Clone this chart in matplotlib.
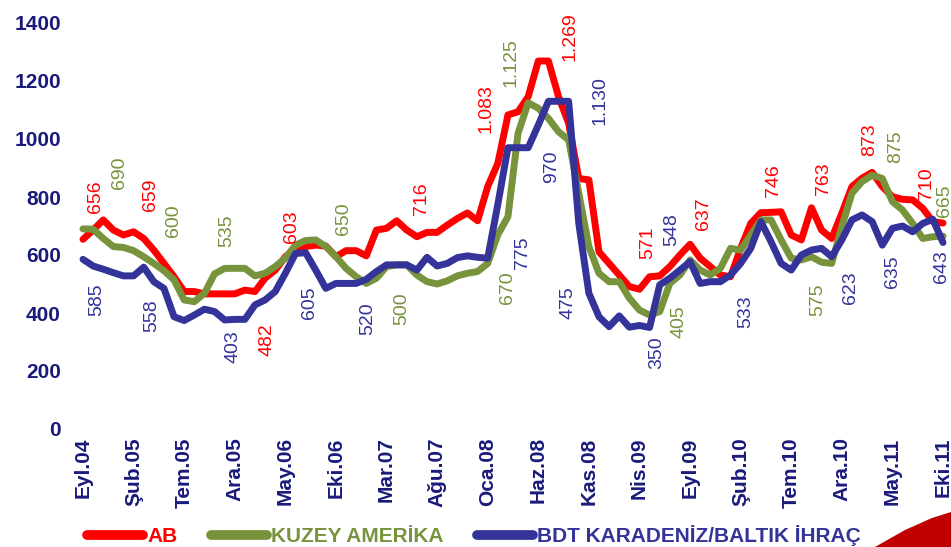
import numpy as np
import matplotlib
matplotlib.use("Agg")
import matplotlib.pyplot as plt
from matplotlib.patches import Polygon

# ── DATA (monthly, Eyl.04 .. Eki.11) ─────────────────────────
TICK_LABELS = ["Eyl.04", "Şub.05", "Tem.05", "Ara.05", "May.06", "Eki.06",
               "Mar.07", "Ağu.07", "Oca.08", "Haz.08", "Kas.08", "Nis.09",
               "Eyl.09", "Şub.10", "Tem.10", "Ara.10", "May.11", "Eki.11"]

ab = [654, 686, 721, 686, 669, 680, 657, 617, 571, 525,
      474, 474, 466, 466, 466, 466, 479, 474, 520, 548,
      594, 623, 629, 634, 631, 594, 615, 615, 597, 686,
      692, 718, 686, 663, 678, 678, 703, 726, 745, 718,
      836, 916, 1083, 1094, 1146, 1269, 1269, 1146, 1054, 864,
      859, 611, 571, 531, 491, 482, 525, 528, 560, 600,
      637, 589, 560, 531, 525, 623, 709, 746, 747, 749,
      669, 652, 763, 686, 657, 744, 836, 865, 885, 836,
      801, 792, 790, 761, 715, 710]

kuzey = [690, 689, 657, 629, 626, 615, 594, 571, 546, 514,
         445, 439, 468, 535, 554, 554, 554, 528, 537, 560,
         589, 634, 650, 652, 629, 594, 554, 525, 502, 520,
         560, 566, 566, 531, 508, 500, 511, 528, 537, 543,
         571, 670, 732, 1020, 1125, 1106, 1071, 1025, 997, 813,
         629, 537, 508, 508, 451, 410, 393, 405, 502, 531,
         583, 548, 531, 554, 623, 617, 669, 721, 721, 652,
         589, 583, 594, 575, 571, 698, 813, 853, 875, 864,
         784, 755, 709, 657, 663, 665]

bdt = [585, 562, 551, 539, 528, 528, 558, 508, 485, 387,
       374, 393, 413, 405, 376, 378, 378, 428, 445, 474,
       537, 605, 608, 548, 485, 502, 502, 502, 516, 543,
       566, 566, 566, 548, 592, 562, 571, 591, 597, 592,
       589, 775, 970, 970, 970, 1048, 1130, 1130, 1130, 709,
       468, 387, 353, 390, 351, 357, 350, 497, 520, 548,
       577, 502, 508, 508, 531, 571, 623, 715, 646, 571,
       548, 600, 617, 623, 594, 652, 721, 738, 715, 634,
       692, 700, 680, 709, 723, 643]

SERIES_NAMES = ["AB", "KUZEY AMERİKA", "BDT KARADENİZ/BALTIK İHRAÇ"]

# value labels: (x index, y value, text, side)
LABELS_AB = [(1.25, 745, "656", "b"), (6.7, 753, "659", "b"), (18.15, 365, "482", "t"),
             (20.6, 640, "603", "b"), (33.5, 738, "716", "b"), (39.8, 1020, "1.083", "b"),
             (48.1, 1270, "1.269", "b"), (55.8, 585, "571", "b"), (61.3, 686, "637", "b"),
             (68.2, 801, "746", "b"), (73.2, 807, "763", "b"), (77.7, 941, "873", "b"),
             (83.4, 790, "710", "b")]
LABELS_KUZEY = [(3.56, 827, "690", "b"), (8.9, 661, "600", "b"), (14.2, 629, "535", "b"),
                (25.7, 669, "650", "b"), (31.5, 470, "500", "t"), (42.0, 542, "670", "t"),
                (42.3, 1178, "1.125", "b"), (58.9, 428, "405", "t"), (72.6, 502, "575", "t"),
                (80.3, 916, "875", "b"), (85.1, 732, "665", "b")]
LABELS_BDT = [(1.35, 503, "585", "t"), (6.8, 447, "558", "t"), (14.85, 341, "403", "t"),
              (22.4, 493, "605", "t"), (28.1, 436, "520", "t"), (43.4, 663, "775", "t"),
              (46.3, 962, "970", "t"), (47.9, 491, "475", "t"), (51.1, 1217, "1.130", "t"),
              (56.7, 318, "350", "t"), (58.2, 631, "548", "b"), (65.5, 462, "533", "t"),
              (75.9, 542, "623", "t"), (80.0, 600, "635", "t"), (84.9, 615, "643", "t")]

RED   = "#FF0000"
GREEN = "#77933C"
BLUE  = "#333399"
NAVY  = "#1A1A7A"

plt.rcParams["font.family"] = ["Liberation Sans", "DejaVu Sans"]

W, H = 951, 547
fig = plt.figure(figsize=(W / 100, H / 100), dpi=100)
ax = fig.add_axes([83 / W, 1 - 429 / H, (943 - 83) / W, (429 - 23) / H])

x = np.arange(len(ab))
series = [(ab, RED, LABELS_AB), (kuzey, GREEN, LABELS_KUZEY), (bdt, BLUE, LABELS_BDT)]
for (vals, col, _), name in zip(series, SERIES_NAMES):
    ax.plot(x, vals, color=col, lw=5, label=name, clip_on=False,
            solid_joinstyle="round", solid_capstyle="round")

for vals, col, labs in series:
    for xi, yv, txt, side in labs:
        ax.text(xi, yv, txt, color=col, fontsize=14, rotation=90,
                ha="center", va="bottom" if side == "b" else "top", clip_on=False)

ax.set_xlim(0, len(ab) - 1)
ax.set_ylim(0, 1400)
ax.set_yticks(np.arange(0, 1401, 200))
ax.set_xticks(np.arange(0, len(ab), 5))
ax.set_xticklabels(TICK_LABELS, rotation=90, fontsize=15, fontweight="bold", color=NAVY)
for lbl in ax.get_yticklabels():
    lbl.set_fontsize(15)
    lbl.set_fontweight("bold")
    lbl.set_color(NAVY)
ax.tick_params(axis="y", length=0, pad=16)
ax.tick_params(axis="x", length=0, pad=6)
for s in ax.spines.values():
    s.set_visible(False)
ax.patch.set_alpha(0)

# decorative red swoosh bottom right
sw = np.array([[875, 547], [905, 530], [932, 518], [951, 512], [951, 547]], dtype=float)
sw[:, 0] /= W
sw[:, 1] = 1 - sw[:, 1] / H
fig.patches.append(Polygon(sw, closed=True, transform=fig.transFigure,
                           facecolor="#C00000", edgecolor="none"))

leg = fig.legend(loc="center left", bbox_to_anchor=(68 / W, 1 - 536 / H), ncol=3,
                 frameon=False, handlelength=2.7, handletextpad=0.2,
                 columnspacing=1.6, labelcolor="linecolor",
                 prop={"weight": "bold", "size": 15})
for line in leg.get_lines():
    line.set_linewidth(7)
    line.set_solid_capstyle("round")

fig.savefig("out.png", dpi=100, facecolor="white")
